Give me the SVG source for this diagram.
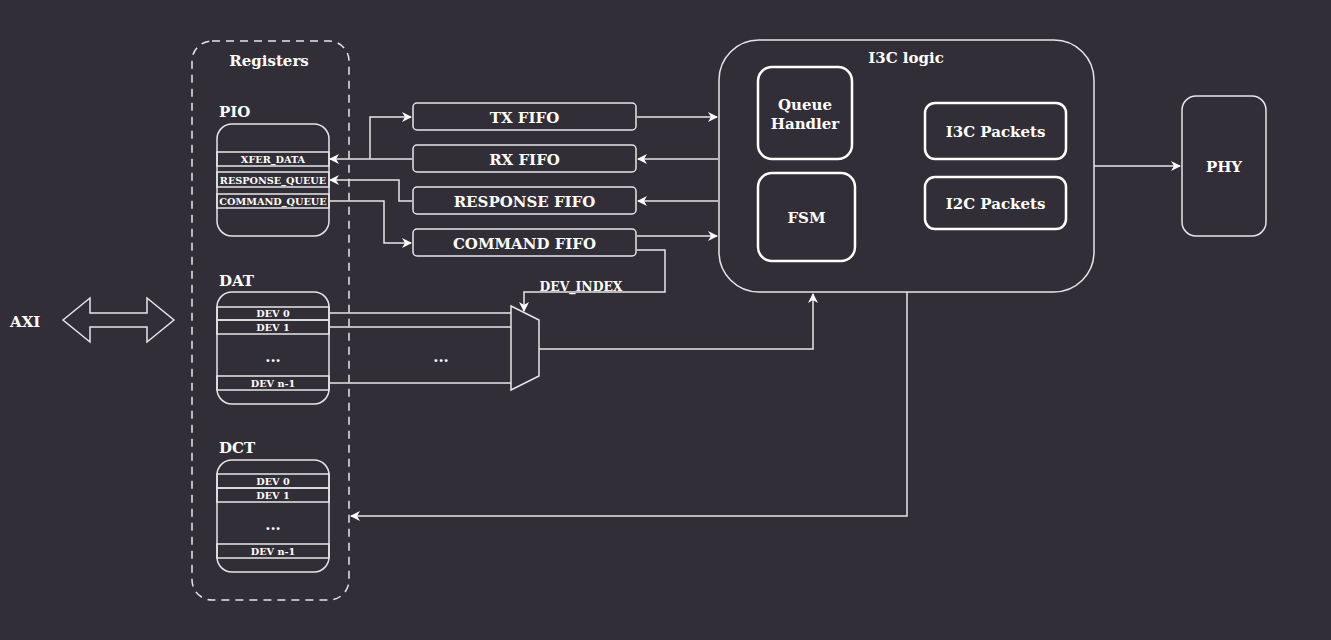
<svg xmlns="http://www.w3.org/2000/svg" width="1331" height="640" viewBox="0 0 1331 640">
<style>
text{font-family:"DejaVu Serif","Liberation Serif",serif;font-weight:bold;fill:#ffffff}
.t16{font-size:15px}
.t11{font-size:9.7px}
.t13{font-size:12.4px}
.box{fill:none;stroke:#e6e6e6;stroke-width:1.5}
.box2{fill:none;stroke:#ffffff;stroke-width:2.5}
.row{fill:none;stroke:#e6e6e6;stroke-width:1.5}
.ln{fill:none;stroke:#e6e6e6;stroke-width:1.5}
</style>
<defs>
<marker id="ah" viewBox="0 0 10 10" refX="9" refY="5" markerWidth="10" markerHeight="10" markerUnits="userSpaceOnUse" orient="auto">
<path d="M0,0 L10,5 L0,10 L3,5 Z" fill="#ffffff"/>
</marker>
</defs>
<rect width="1331" height="640" fill="#322e38"/>

<g id="axi">
<text class="t16" x="10" y="327">AXI</text>
<path d="M63,320 L90,298 L90,313 L147,313 L147,298 L174,320 L147,342 L147,327 L90,327 L90,342 Z" class="box"/>
</g>

<g id="registers">
<rect x="192" y="41" width="157" height="559" rx="20" fill="none" stroke="#e6e6e6" stroke-width="1.5" stroke-dasharray="8 6"/>
<text class="t16" x="269" y="66" text-anchor="middle">Registers</text>
</g>

<g id="pio">
<text class="t16" x="219" y="117">PIO</text>
<rect x="217" y="124" width="112" height="112" rx="15" class="box"/>
<rect x="217" y="152" width="112" height="14" class="row"/>
<rect x="217" y="172" width="112" height="15" class="row"/>
<rect x="217" y="194" width="112" height="14" class="row"/>
<text class="t11" x="273" y="163" text-anchor="middle">XFER_DATA</text>
<text class="t11" x="273" y="184" text-anchor="middle">RESPONSE_QUEUE</text>
<text class="t11" x="273" y="205" text-anchor="middle">COMMAND_QUEUE</text>
</g>

<g id="dat">
<text class="t16" x="219" y="286">DAT</text>
<rect x="217" y="292" width="112" height="112" rx="15" class="box"/>
<rect x="217" y="307" width="112" height="13" class="row"/>
<rect x="217" y="320" width="112" height="14" class="row"/>
<rect x="217" y="376" width="112" height="14" class="row"/>
<text class="t11" x="273" y="317" text-anchor="middle">DEV 0</text>
<text class="t11" x="273" y="331" text-anchor="middle">DEV 1</text>
<text class="t16" x="273" y="362" text-anchor="middle">...</text>
<text class="t11" x="273" y="387" text-anchor="middle">DEV n-1</text>
</g>

<g id="dct">
<text class="t16" x="219" y="453">DCT</text>
<rect x="217" y="460" width="112" height="112" rx="15" class="box"/>
<rect x="217" y="474" width="112" height="14" class="row"/>
<rect x="217" y="488" width="112" height="14" class="row"/>
<rect x="217" y="544" width="112" height="14" class="row"/>
<text class="t11" x="273" y="485" text-anchor="middle">DEV 0</text>
<text class="t11" x="273" y="499" text-anchor="middle">DEV 1</text>
<text class="t16" x="273" y="530" text-anchor="middle">...</text>
<text class="t11" x="273" y="555" text-anchor="middle">DEV n-1</text>
</g>

<g id="tx-fifo">
<rect x="413" y="103" width="223" height="27" rx="4" class="box"/>
<text class="t16" x="524.5" y="123" text-anchor="middle">TX FIFO</text>
</g>
<g id="rx-fifo">
<rect x="413" y="145" width="223" height="27" rx="4" class="box"/>
<text class="t16" x="524.5" y="165" text-anchor="middle">RX FIFO</text>
</g>
<g id="response-fifo">
<rect x="413" y="187" width="223" height="27" rx="4" class="box"/>
<text class="t16" x="524.5" y="207" text-anchor="middle">RESPONSE FIFO</text>
</g>
<g id="command-fifo">
<rect x="413" y="229" width="223" height="27" rx="4" class="box"/>
<text class="t16" x="524.5" y="249" text-anchor="middle">COMMAND FIFO</text>
</g>

<g id="mux">
<path d="M511,306 L539,320 L539,376 L511,390 Z" class="box"/>
</g>

<g id="i3c-logic">
<rect x="719" y="40" width="375" height="252" rx="40" class="box"/>
<text class="t16" x="906" y="63" text-anchor="middle">I3C logic</text>
</g>
<g id="queue-handler">
<rect x="758" y="67" width="94" height="92" rx="14" class="box2"/>
<text class="t16" x="805" y="110" text-anchor="middle">Queue</text>
<text class="t16" x="805" y="129" text-anchor="middle">Handler</text>
</g>
<g id="fsm">
<rect x="758" y="173" width="97" height="88" rx="14" class="box2"/>
<text class="t16" x="806.5" y="223" text-anchor="middle">FSM</text>
</g>
<g id="i3c-packets">
<rect x="925" y="103" width="141" height="56" rx="10" class="box2"/>
<text class="t16" x="995.5" y="137" text-anchor="middle">I3C Packets</text>
</g>
<g id="i2c-packets">
<rect x="925" y="177" width="141" height="52" rx="10" class="box2"/>
<text class="t16" x="995.5" y="209" text-anchor="middle">I2C Packets</text>
</g>

<g id="phy">
<rect x="1182" y="96" width="84" height="140" rx="14" class="box"/>
<text class="t16" x="1224" y="172" text-anchor="middle">PHY</text>
</g>

<g id="connectors">
<path d="M412,159 L330,159" class="ln" marker-end="url(#ah)"/>
<path d="M370,159 L370,117 L411,117" class="ln" marker-end="url(#ah)"/>
<path d="M412,201 L399,201 L399,180 L330,180" class="ln" marker-end="url(#ah)"/>
<path d="M329,201 L384,201 L384,243 L411,243" class="ln" marker-end="url(#ah)"/>
<path d="M637,117 L717,117" class="ln" marker-end="url(#ah)"/>
<path d="M718,159 L638,159" class="ln" marker-end="url(#ah)"/>
<path d="M718,201 L638,201" class="ln" marker-end="url(#ah)"/>
<path d="M637,236 L717,236" class="ln" marker-end="url(#ah)"/>
<path d="M637,250 L665,250 L665,292 L524,292 L524,311" class="ln" marker-end="url(#ah)"/>
<text class="t13" x="581" y="291" text-anchor="middle">DEV_INDEX</text>
<path d="M329,313 L511,313 M329,327 L511,327 M329,383 L511,383" class="ln"/>
<text class="t16" x="441" y="362" text-anchor="middle">...</text>
<path d="M539,349 L813,349 L813,294" class="ln" marker-end="url(#ah)"/>
<path d="M1094,166 L1180,166" class="ln" marker-end="url(#ah)"/>
<path d="M907,292 L907,516 L351,516" class="ln" marker-end="url(#ah)"/>
</g>
</svg>
